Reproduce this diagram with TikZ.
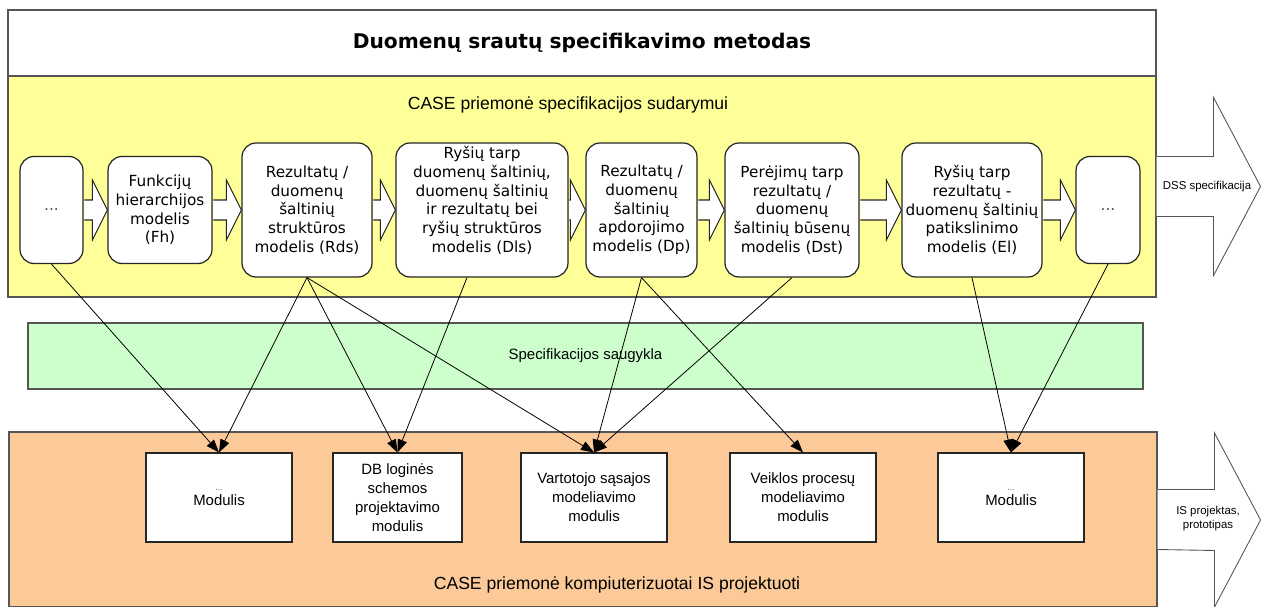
\documentclass[tikz,border=0pt]{standalone}
\usepackage{fontspec}
\setmainfont{Liberation Sans}
\newfontfamily\verdanafont{DejaVu Sans}
\definecolor{dssyellow}{RGB}{255,255,153}
\definecolor{dssgreen}{RGB}{204,255,204}
\definecolor{dssorange}{RGB}{252,202,152}
\definecolor{dssframe}{RGB}{85,85,85}
\usetikzlibrary{arrows.meta,positioning}

\tikzset{
  band/.style={draw=dssframe, line width=0.6pt, inner sep=0pt},
  model/.style={draw=black!85, fill=white, rounded corners=8pt, line width=0.7pt, align=center, inner sep=1pt, minimum height=2.68cm, font=\verdanafont\fontsize{8.7}{10.6}\selectfont},
  modelsmall/.style={model, minimum height=2.14cm},
  module/.style={draw=black!85, fill=white, line width=0.6pt, align=center, minimum width=2.92cm, minimum height=1.78cm, font=\fontsize{8.5}{10.8}\selectfont},
  blockarrow/.style={draw=black!85, fill=white, line width=0.6pt},
  outarrow/.style={draw=dssframe, fill=white, line width=0.5pt},
  link/.style={-{Triangle[length=2.6mm,width=1.9mm]}, line width=0.45pt}
}

% block arrow between two neighbouring model nodes
\newcommand{\stagearrow}[2]{%
  \draw[blockarrow] ([xshift=0.4pt,yshift=2mm]#1.east) -- ([xshift=-3mm,yshift=2mm]#2.west)
    -- ([xshift=-3mm,yshift=6mm]#2.west) -- (#2.west)
    -- ([xshift=-3mm,yshift=-6mm]#2.west) -- ([xshift=-3mm,yshift=-2mm]#2.west)
    -- ([xshift=0.4pt,yshift=-2mm]#1.east);}

\begin{document}
\begin{tikzpicture}
  \useasboundingbox (0,0) rectangle (25.28,12.12);

  % bands
  \node[band, fill=white, minimum width=22.96cm, minimum height=1.32cm, font=\verdanafont\bfseries\fontsize{11.5}{13}\selectfont] (title) at (11.64,11.26) {Duomenų srautų specifikavimo metodas};
  \node[band, fill=dssyellow, minimum width=22.96cm, minimum height=4.42cm] (casetop) at (11.64,8.39) {};
  \node[font=\fontsize{10}{12}\selectfont] (casetoplabel) at (11.36,10.02) {CASE priemonė specifikacijos sudarymui};
  \node[band, fill=dssgreen, minimum width=22.30cm, minimum height=1.32cm, font=\fontsize{8.5}{10}\selectfont] (store) at (11.71,5.00) {Specifikacijos saugykla};
  \node[band, fill=dssorange, minimum width=22.96cm, minimum height=3.50cm] (isband) at (11.66,1.73) {};
  \node[font=\fontsize{10}{12}\selectfont] (isbandlabel) at (12.34,0.42) {CASE priemonė kompiuterizuotai IS projektuoti};

  % models
  \node[modelsmall, minimum width=1.26cm] (dotsa) at (1.03,7.92) {\color{black!70}...};
  \node[modelsmall, minimum width=2.08cm] (fh) at (3.20,7.92) {Funkcijų\\hierarchijos\\modelis\\(Fh)};
  \node[model, minimum width=2.60cm] (rds) at (6.14,7.92) {Rezultatų /\\duomenų\\šaltinių\\struktūros\\modelis (Rds)};
  \node[model, minimum width=3.44cm] (dls) at (9.64,7.92) {Ryšių tarp\\duomenų šaltinių,\\duomenų šaltinių\\ir rezultatų bei\\ryšių struktūros\\modelis (Dls)\\[0.5mm]};
  \node[model, minimum width=2.22cm] (dp) at (12.83,7.92) {Rezultatų /\\duomenų\\šaltinių\\apdorojimo\\modelis (Dp)};
  \node[model, minimum width=2.68cm] (dst) at (15.84,7.92) {Perėjimų tarp\\rezultatų /\\duomenų\\šaltinių būsenų\\modelis (Dst)};
  \node[model, minimum width=2.80cm] (el) at (19.44,7.92) {Ryšių tarp\\rezultatų -\\duomenų šaltinių\\patikslinimo\\modelis (El)};
  \node[modelsmall, minimum width=1.28cm] (dotsb) at (22.16,7.92) {\color{black!70}...};

  \stagearrow{dotsa}{fh}
  \stagearrow{fh}{rds}
  \stagearrow{rds}{dls}
  \stagearrow{dls}{dp}
  \stagearrow{dp}{dst}
  \stagearrow{dst}{el}
  \stagearrow{el}{dotsb}

  % modules
  \node[module] (moda) at (4.38,2.17) {{\fontsize{5}{6}\selectfont\color{black!60}...}\\[-2pt]Modulis};
  \node[module, minimum width=2.58cm] (moddb) at (7.95,2.17) {DB loginės\\schemos\\projektavimo\\modulis};
  \node[module] (modui) at (11.88,2.17) {Vartotojo sąsajos\\modeliavimo\\modulis};
  \node[module] (modbp) at (16.06,2.17) {Veiklos procesų\\modeliavimo\\modulis};
  \node[module] (modb) at (20.22,2.17) {{\fontsize{5}{6}\selectfont\color{black!60}...}\\[-2pt]Modulis};

  \draw[link] (dotsa.south) -- (moda.north);
  \draw[link] (rds.south) -- (moda.north);
  \draw[link] (rds.south) -- (moddb.north);
  \draw[link] (rds.south) -- (modui.north);
  \draw[link] ([xshift=-3mm]dls.south) -- (moddb.north);
  \draw[link] (dp.south) -- (modui.north);
  \draw[link] (dp.south) -- (modbp.north);
  \draw[link] (dst.south) -- (modui.north);
  \draw[link] (el.south) -- (modb.north);
  \draw[link] (dotsb.south) -- (modb.north);

  % outputs
  \draw[outarrow] ([yshift=6mm]casetop.east) -- ++(1.14,0) -- ++(0,1.18) -- ++(0.94,-1.78) -- ++(-0.94,-1.78) -- ++(0,1.18) -- ([yshift=-6mm]casetop.east);
  \node[font=\fontsize{6.5}{8}\selectfont] (dsslabel) at (24.14,8.38) {DSS specifikacija};
  \draw[outarrow] ([yshift=6mm]isband.east) -- ++(1.14,0) -- ++(0,1.13) -- ++(0.92,-1.74) -- ++(-0.92,-1.74) -- ++(0,1.13) -- ([yshift=-6mm]isband.east);
  \node[font=\fontsize{6.5}{8}\selectfont, align=center] (islabel) at (24.16,1.74) {IS projektas,\\prototipas};
\end{tikzpicture}
\end{document}
